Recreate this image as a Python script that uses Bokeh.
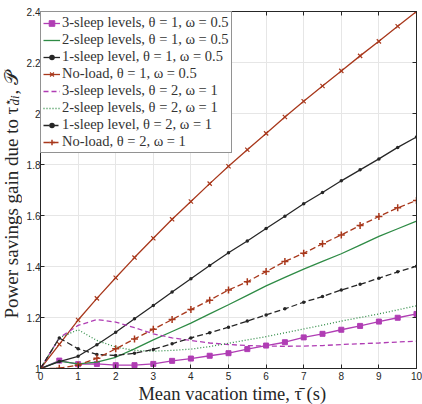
import math
from bokeh.plotting import figure
from bokeh.layouts import row, column
from bokeh.models import Range1d, FixedTicker, LinearAxis, Legend, CustomJSTickFormatter
from bokeh.core.properties import value
from bokeh.embed import file_html
from bokeh.resources import INLINE

x = [0, 0.5, 1, 1.5, 2, 2.5, 3, 3.5, 4, 4.5, 5, 5.5, 6, 6.5, 7, 7.5, 8, 8.5, 9, 9.5, 10]

s3_t1 = [1.0, 1.031, 1.017, 1.018, 1.013, 1.013, 1.018, 1.030, 1.039, 1.050, 1.060,
         1.076, 1.090, 1.103, 1.122, 1.136, 1.152, 1.167, 1.184, 1.199, 1.214]
s2_t1 = [1.0, 1.029, 1.018, 1.025, 1.044, 1.077, 1.112, 1.145, 1.178, 1.214, 1.250,
         1.287, 1.324, 1.357, 1.390, 1.420, 1.450, 1.484, 1.518, 1.548, 1.578]
s1_t1 = [1.0, 1.027, 1.048, 1.093, 1.142, 1.195, 1.247, 1.300, 1.352, 1.404, 1.454,
         1.500, 1.549, 1.597, 1.646, 1.690, 1.736, 1.779, 1.822, 1.867, 1.908]
nl_t1 = [1.0, 1.095, 1.190, 1.275, 1.356, 1.435, 1.511, 1.585, 1.655, 1.725, 1.793,
         1.858, 1.922, 1.986, 2.048, 2.108, 2.167, 2.226, 2.283, 2.342, 2.400]
s3_t2 = [1.0, 1.120, 1.169, 1.192, 1.182, 1.160, 1.136, 1.120, 1.110, 1.100, 1.094,
         1.090, 1.088, 1.087, 1.088, 1.090, 1.094, 1.097, 1.100, 1.104, 1.107]
s2_t2 = [1.0, 1.120, 1.152, 1.110, 1.084, 1.071, 1.068, 1.071, 1.076, 1.086, 1.099,
         1.112, 1.125, 1.140, 1.155, 1.170, 1.186, 1.200, 1.214, 1.230, 1.246]
s1_t2 = [1.0, 1.120, 1.077, 1.055, 1.051, 1.060, 1.075, 1.097, 1.120, 1.140, 1.162,
         1.186, 1.210, 1.234, 1.260, 1.282, 1.308, 1.330, 1.354, 1.379, 1.401]
nl_t2 = [1.0, 1.001, 1.013, 1.040, 1.077, 1.116, 1.154, 1.192, 1.231, 1.268, 1.308,
         1.340, 1.380, 1.420, 1.452, 1.489, 1.524, 1.561, 1.596, 1.630, 1.659]

labels = [
    "3-sleep levels, θ = 1, ω = 0.5",
    "2-sleep levels, θ = 1, ω = 0.5",
    "1-sleep level, θ = 1, ω = 0.5",
    "No-load, θ = 1, ω = 0.5",
    "3-sleep levels, θ = 2, ω = 1",
    "2-sleep levels, θ = 2, ω = 1",
    "1-sleep level, θ = 2, ω = 1",
    "No-load, θ = 2, ω = 1",
]
x_ticks = [0, 1, 2, 3, 4, 5, 6, 7, 8, 9, 10]
y_ticks = [1, 1.2, 1.4, 1.6, 1.8, 2, 2.2, 2.4]
x_title = "Mean vacation time, τ̄ (s)"
y_title_parts = ["Power savings gain due to", "τ", "⋆", "di", ", 𝒫"]

PURPLE = "#B03DB4"
GREEN = "#2E8B45"
BLACK = "#262626"
RED = "#A8381C"
AX = "#262626"
SERIF = "Liberation Serif"
SANS = "Liberation Sans"

YLW = 22   # width of the y-title strip
XLH = 21   # height of the x-title strip

# ---------------- main plot ----------------
p = figure(width=422 - YLW, height=404 - XLH, output_backend="svg", toolbar_location=None,
           title=None, x_range=Range1d(0, 10), y_range=Range1d(1, 2.4),
           min_border_left=18, min_border_right=6, min_border_top=11,
           min_border_bottom=15)
p.background_fill_color = "white"
p.border_fill_color = "white"
p.outline_line_color = AX
p.outline_line_width = 1

for ax in (p.xaxis[0], p.yaxis[0]):
    ax.major_tick_in = 4
    ax.major_tick_out = 0
    ax.minor_tick_line_color = None
    ax.axis_line_color = AX
    ax.major_tick_line_color = AX
    ax.major_label_text_font = SANS
    ax.major_label_text_font_size = "10px"
    ax.major_label_text_color = AX
p.xaxis.major_label_standoff = 3
p.yaxis.major_label_standoff = 0
p.xaxis.ticker = FixedTicker(ticks=x_ticks)
p.yaxis.ticker = FixedTicker(ticks=y_ticks)
p.yaxis.major_label_overrides = {1: "1", 2: "2"}

blank = CustomJSTickFormatter(code="return ''")
for loc in ("right", "above"):
    a = LinearAxis(ticker=FixedTicker(ticks=x_ticks if loc == "above" else y_ticks),
                   formatter=blank)
    a.major_tick_in = 4
    a.major_tick_out = 0
    a.minor_tick_line_color = None
    a.axis_line_color = AX
    a.major_tick_line_color = AX
    a.major_label_standoff = 0
    p.add_layout(a, loc)

p.grid.grid_line_color = "#e6e6e6"
p.grid.grid_line_width = 1
p.xgrid.ticker = FixedTicker(ticks=x_ticks)
p.ygrid.ticker = FixedTicker(ticks=y_ticks)

items = []
lw = 1.3
r = p.line(x, s3_t1, color=PURPLE, line_width=lw)
m = p.scatter(x, s3_t1, marker="square", size=5, color=PURPLE)
items.append((labels[0], [r, m]))
r = p.line(x, s2_t1, color=GREEN, line_width=lw)
items.append((labels[1], [r]))
r = p.line(x, s1_t1, color=BLACK, line_width=lw)
m = p.scatter(x, s1_t1, marker="circle", size=3.5, color=BLACK, line_width=0)
items.append((labels[2], [r, m]))
r = p.line(x, nl_t1, color=RED, line_width=lw)
m = p.scatter(x, nl_t1, marker="x", size=6, color=RED, line_width=1.2)
items.append((labels[3], [r, m]))
r = p.line(x, s3_t2, color=PURPLE, line_width=lw, line_dash="5 3")
items.append((labels[4], [r]))
r = p.line(x, s2_t2, color=GREEN, line_width=lw, line_dash="1 2")
items.append((labels[5], [r]))
r = p.line(x, s1_t2, color=BLACK, line_width=lw, line_dash="6 3")
m = p.scatter(x, s1_t2, marker="circle", size=3.5, color=BLACK, line_width=0)
items.append((labels[6], [r, m]))
r = p.line(x, nl_t2, color=RED, line_width=lw, line_dash="6 3")
m = p.scatter(x, nl_t2, marker="cross", size=7, color=RED, line_width=1.5)
items.append((labels[7], [r, m]))

legend = Legend(items=items, location="top_left")
legend.label_text_font = SERIF
legend.label_text_font_size = "14.5px"
legend.label_text_color = "#333333"
legend.glyph_width = 17
legend.glyph_height = 14
legend.label_height = 14
legend.label_standoff = 2
legend.spacing = 0
legend.padding = 2
legend.margin = 0
legend.border_line_color = AX
legend.border_line_width = 1
legend.background_fill_alpha = 1
p.add_layout(legend)


def blank_fig(w, h):
    f = figure(width=w, height=h, output_backend="svg", toolbar_location=None,
               title=None, x_range=Range1d(0, w), y_range=Range1d(0, h),
               min_border=0, min_border_left=0, min_border_right=0,
               min_border_top=0, min_border_bottom=0)
    f.axis.visible = False
    f.grid.visible = False
    f.outline_line_color = None
    f.background_fill_color = "white"
    f.border_fill_color = "white"
    return f

# ---------------- x-axis title strip ----------------
xl = blank_fig(422 - YLW, XLH)
xl.text(x=[226 - YLW], y=[XLH / 2], text=[x_title], text_font=value(SERIF),
        text_font_size="18.5px", text_color=AX, text_align="center",
        text_baseline="middle")

# ---------------- y-axis title strip (with sub/superscripts) ----------------
H = 404
yl = blank_fig(YLW, H)
V = math.pi / 2
def ytxt(px, py, t, size, align="left", style="normal"):
    yl.text(x=[px], y=[H - py], text=[t], angle=V, text_font=value(SERIF),
            text_font_size=size, text_font_style=style, text_color=AX,
            text_align=align, text_baseline="middle")

ytxt(11, 318, y_title_parts[0], "19px")
ytxt(11, 114, y_title_parts[1], "19px")
ytxt(7.5, 105, y_title_parts[2], "12px")
ytxt(13.5, 105, y_title_parts[3], "13px", style="italic")
ytxt(11, 94, y_title_parts[4], "19px")

layout = row(yl, column(p, xl, spacing=0), spacing=0)
open("out.html", "w").write(file_html(layout, INLINE))
